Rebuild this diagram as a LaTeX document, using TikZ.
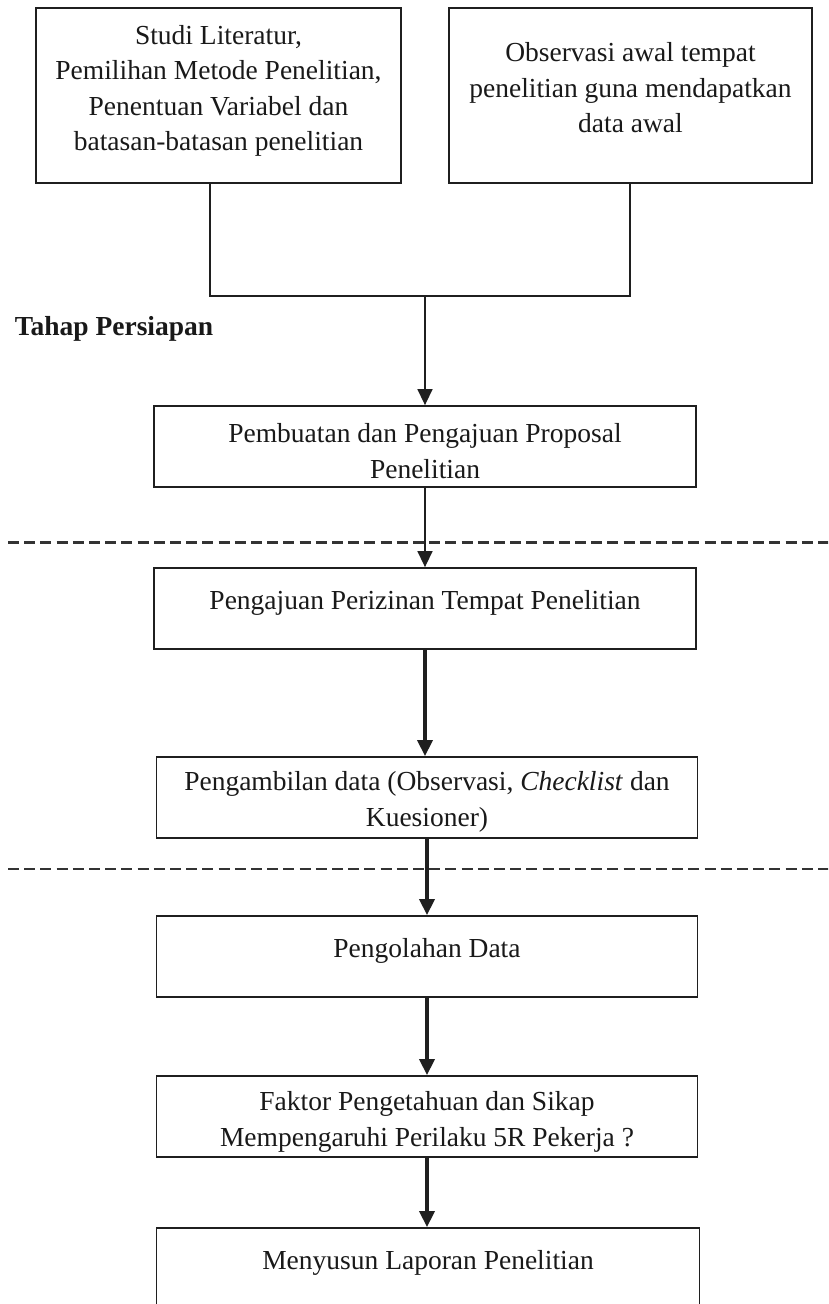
\documentclass[tikz,border=0pt]{standalone}
\usepackage{fontspec}
\setmainfont{Liberation Serif}
\usetikzlibrary{arrows.meta}
\tikzset{
  box/.style={draw=black!88, line width=1.8pt, rectangle, inner sep=0pt},
  txt/.style={align=center, inner sep=0pt, font=\fontsize{27.5}{35.5}\selectfont, text=black!90},
  thinarrow/.style={draw=black!88, line width=1.5pt, -{Triangle[length=16pt,width=15pt]}},
  thickarrow/.style={draw=black!88, line width=3.5pt, -{Triangle[length=16pt,width=15pt]}},
  thinline/.style={draw=black!88, line width=1.5pt},
  sepline/.style={draw=black!80, line width=2.4pt, dash pattern=on 11pt off 5.2pt}
}
\begin{document}
\begin{tikzpicture}[x=1pt,y=-1pt]
\useasboundingbox (0,0) rectangle (828,1304);
\clip (0,0) rectangle (828,1304);
\fill[white] (0,0) rectangle (828,1304);

% boxes
\node[box, minimum width=365pt, minimum height=175pt] (b1) at (218.5,95.5) {};
\node[box, minimum width=363pt, minimum height=175pt] (b2) at (630.5,95.5) {};
\node[box, minimum width=542pt, minimum height=81pt] (b3) at (425,446.5) {};
\node[box, minimum width=542pt, minimum height=81pt] (b4) at (425,608.5) {};
\node[box, minimum width=541pt, minimum height=81pt] (b5) at (427,797.5) {};
\node[box, minimum width=541pt, minimum height=81pt] (b6) at (427,956.5) {};
\node[box, minimum width=541pt, minimum height=81pt] (b7) at (427,1116.5) {};
\node[box, minimum width=543pt, minimum height=110pt] (b8) at (428,1283) {};

% texts
\node[txt] (t1) at (218.5,91) {Studi Literatur,\\Pemilihan Metode Penelitian,\\Penentuan Variabel dan\\batasan-batasan penelitian};
\node[txt] (t2) at (630.5,88) {Observasi awal tempat\\penelitian guna mendapatkan\\data awal};
\node[txt] (t3) at (425,451) {Pembuatan dan Pengajuan Proposal\\Penelitian};
\node[txt] (t4) at (425,603) {Pengajuan Perizinan Tempat Penelitian};
\node[txt] (t5) at (427,802) {Pengambilan data (Observasi, \textit{Checklist} dan\\Kuesioner)};
\node[txt] (t6) at (427,951) {Pengolahan Data};
\node[txt] (t7) at (427,1122) {Faktor Pengetahuan dan Sikap\\Mempengaruhi Perilaku 5R Pekerja ?};
\node[txt] (t8) at (428,1263) {Menyusun Laporan Penelitian};

\node[inner sep=0pt, font=\fontsize{27.5}{30}\selectfont\bfseries, text=black!90] (lab) at (114,329) {Tahap Persiapan};

% separators
\coordinate (d1a) at (8,542.5);
\coordinate (d1b) at (830,542.5);
\coordinate (d2a) at (8,869);
\coordinate (d2b) at (830,869);
\draw[sepline] (d1a) -- (d1b);
\draw[sepline] (d2a) -- (d2b);

% connectors
\coordinate (L) at (210,296);
\coordinate (R) at (630,296);
\coordinate (J) at (425,296);
\draw[thinline] (b1.south -| L) -- (L) -- (R) -- (b2.south -| R);
\draw[thinarrow] (J) -- (b3.north);
\draw[thinarrow] (b3.south) -- (b4.north);
\draw[thickarrow] (b4.south) -- (b4.south |- b5.north);
\draw[thickarrow] (b5.south) -- (b6.north);
\draw[thickarrow] (b6.south) -- (b7.north);
\draw[thickarrow] (b7.south) -- (b7.south |- b8.north);
\end{tikzpicture}
\end{document}
